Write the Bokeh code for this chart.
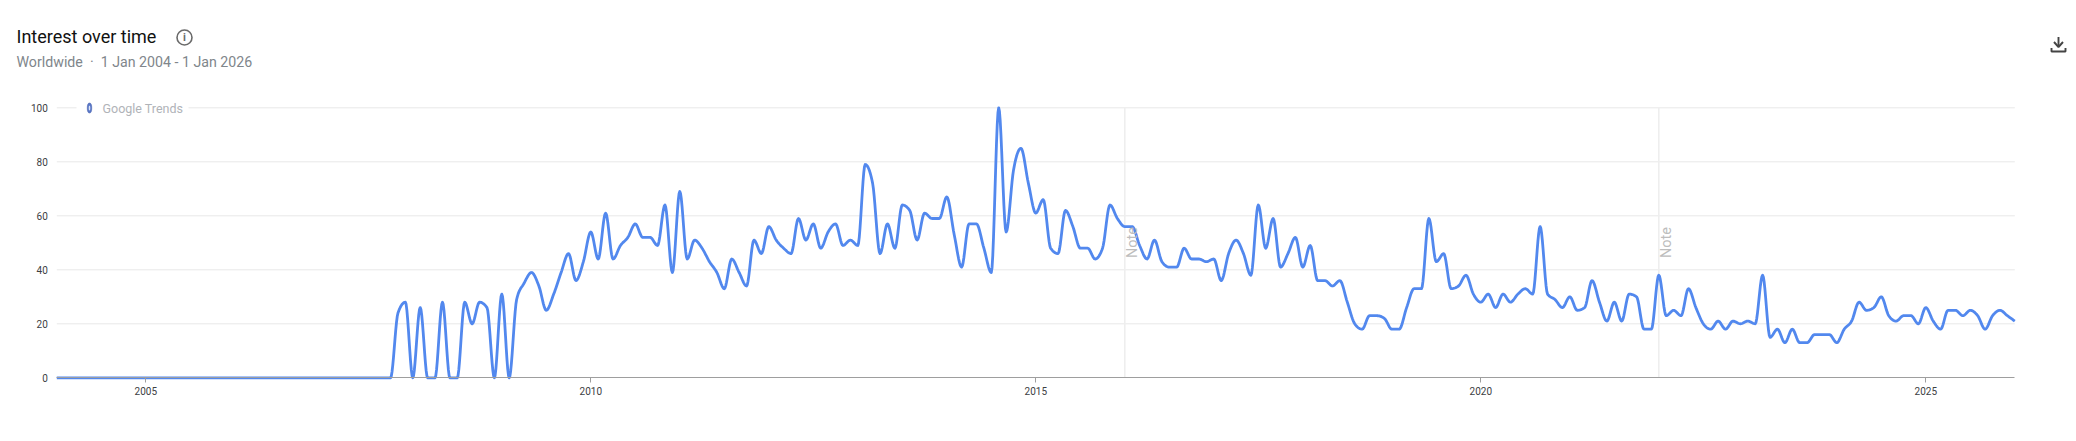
import numpy as np
from bokeh.plotting import figure
from bokeh.models import Range1d, FixedTicker
from bokeh.embed import file_html
from bokeh.resources import INLINE
from bokeh.core.properties import value

# Monthly interest values, Jan 2004 onward
y2004 = [0]*12
y2005 = [0]*12
y2006 = [0]*12
y2007 = [0]*10 + [24, 28]
y2008 = [0, 26, 0, 0, 28, 0, 0, 28, 20, 28, 26, 0]
y2009 = [31, 0, 29, 35, 39, 34, 25, 31, 39, 46, 36, 43]
y2010 = [54, 44, 61, 44, 49, 52, 57, 52, 52, 49, 64, 39]
y2011 = [69, 44, 51, 48, 43, 39, 33, 44, 39, 34, 51, 46]
y2012 = [56, 51, 48, 46, 59, 51, 57, 48, 54, 57, 49, 51]
y2013 = [49, 79, 72, 46, 57, 48, 64, 62, 51, 61, 59, 59]
y2014 = [67, 53, 41, 57, 57, 48, 39, 100, 54, 77, 85, 72]
y2015 = [61, 66, 48, 46, 62, 56, 48, 48, 44, 48, 64, 59]
y2016 = [56, 56, 49, 44, 51, 43, 41, 41, 48, 44, 44, 43]
y2017 = [44, 36, 46, 51, 46, 38, 64, 48, 59, 41, 46, 52]
y2018 = [41, 49, 36, 36, 34, 36, 28, 20, 18, 23, 23, 22]
y2019 = [18, 18, 26, 33, 33, 59, 43, 46, 33, 34, 38, 31]
y2020 = [28, 31, 26, 31, 28, 31, 33, 31, 56, 31, 29, 26]
y2021 = [30, 25, 26, 36, 28, 21, 28, 21, 31, 30, 18, 18]
y2022 = [38, 23, 25, 23, 33, 26, 20, 18, 21, 18, 21, 20]
y2023 = [21, 20, 38, 15, 18, 13, 18, 13, 13, 16, 16, 16]
y2024 = [13, 18, 21, 28, 25, 26, 30, 23, 21, 23, 23, 20]
y2025 = [26, 21, 18, 25, 25, 23, 25, 23, 18, 23, 25, 23]
y2026 = [21]

interest = (y2004 + y2005 + y2006 + y2007 + y2008 + y2009 + y2010 + y2011 + y2012
            + y2013 + y2014 + y2015 + y2016 + y2017 + y2018 + y2019 + y2020 + y2021
            + y2022 + y2023 + y2024 + y2025 + y2026)
months = [2004 + i / 12 for i in range(len(interest))]

year_ticks = [2005, 2010, 2015, 2020, 2025]
value_ticks = [0, 20, 40, 60, 80, 100]
note_years = [2016, 2022]

TITLE = "Interest over time"
SUBTITLE = "Worldwide\u00a0\u00a0\u00b7\u00a0\u00a01 Jan 2004 - 1 Jan 2026"
BRAND = "Google Trends"

W, H = 2070, 432
PX_YEAR, PX_UNIT = 89.0, 2.7
X0_PAGE, Y0_PAGE = 56.3, 377.3   # page pixel of (2004, 0)
MARGIN = 0


def dx(px):  # page pixel -> data x
    return 2004 + (px - X0_PAGE) / PX_YEAR


def dy(px):  # page pixel -> data y
    return (Y0_PAGE - px) / PX_UNIT


def monotone(xs, ys, per=10):
    """Draw-time curve through the values, flat at local extremes."""
    xs, ys = np.asarray(xs, float), np.asarray(ys, float)
    h = np.diff(xs)
    s = np.diff(ys) / h
    m = np.zeros_like(ys)
    for i in range(1, len(ys) - 1):
        if s[i - 1] * s[i] > 0:
            p_ = (s[i - 1] * h[i] + s[i] * h[i - 1]) / (h[i] + h[i - 1])
            m[i] = np.sign(s[i]) * min(abs(s[i - 1]), abs(s[i]), 0.5 * abs(p_)) * 2
    m[0], m[-1] = s[0], s[-1]
    X, Y = [], []
    for i in range(len(h)):
        for t in np.linspace(0, 1, per, endpoint=False):
            a = 2*t**3 - 3*t**2 + 1
            b = t**3 - 2*t**2 + t
            c = -2*t**3 + 3*t**2
            d = t**3 - t**2
            X.append(xs[i] + t * h[i])
            Y.append(a*ys[i] + b*h[i]*m[i] + c*ys[i+1] + d*h[i]*m[i+1])
    X.append(xs[-1])
    Y.append(ys[-1])
    return X, Y


p = figure(width=W, height=H, output_backend="svg", toolbar_location=None,
           x_range=Range1d(dx(MARGIN), dx(MARGIN + W)),
           y_range=Range1d(dy(MARGIN + H), dy(MARGIN)),
           min_border=0, outline_line_color=None)

p.xgrid.visible = False
p.ygrid.visible = False

xa = p.xaxis[0]
xa.ticker = FixedTicker(ticks=year_ticks)
xa.fixed_location = 0
xa.bounds = (2004, 2026)
xa.axis_line_color = "#9e9e9e"
xa.axis_line_width = 1
xa.major_tick_line_color = "#9e9e9e"
xa.major_tick_in = 0
xa.major_tick_out = 5
xa.minor_tick_line_color = None
xa.major_label_text_font = "Roboto"
xa.major_label_text_font_size = "10px"
xa.major_label_text_color = "#3c4043"
xa.major_label_standoff = 4

ya = p.yaxis[0]
ya.ticker = FixedTicker(ticks=value_ticks)
ya.fixed_location = 2004
ya.axis_line_color = None
ya.major_tick_line_color = None
ya.minor_tick_line_color = None
ya.major_tick_out = 0
ya.major_tick_in = 0
ya.major_label_text_font = "Roboto"
ya.major_label_text_font_size = "10px"
ya.major_label_text_color = "#3c4043"
ya.major_label_standoff = 9

# horizontal gridlines, limited to the data span (0 is the axis itself)
grid_vals = value_ticks[1:]
p.segment(x0=[2004]*len(grid_vals), y0=grid_vals, x1=[2026]*len(grid_vals), y1=grid_vals,
          line_color="#e8e8e8", line_width=1)

# note markers
p.segment(x0=note_years, y0=[0]*2, x1=note_years, y1=[100]*2,
          line_color="#eeeeee", line_width=1.6)

# brand patch over the top gridline
p.quad(left=[dx(76)], right=[dx(188)], bottom=[dy(114)], top=[dy(100)],
       fill_color="white", line_color=None)
p.ellipse(x=[dx(89)], y=[dy(107.5)], width=[4.5], height=[10],
          width_units="screen", height_units="screen",
          fill_color="#5a78c8", line_color="#3a55a5", line_width=0.5)
p.ellipse(x=[dx(89)], y=[dy(107.5)], width=[1.6], height=[5],
          width_units="screen", height_units="screen",
          fill_color="#dbe4f8", line_color=None)
p.text(x=[dx(102)], y=[dy(107.5)], text=[BRAND], text_font=value("Roboto"),
       text_font_size="12.5px", text_color="#b0b3b8",
       text_align="left", text_baseline="middle")

# series
cx, cy = monotone(months, interest)
p.line(cx, cy, line_color="#5288ee", line_width=2.8, line_join="round")

# Note labels
p.text(x=[dx(1132), dx(1666)], y=[dy(242)]*2, text=["Note", "Note"], angle=np.pi/2,
       text_font=value("Roboto"), text_font_size="14.5px", text_color="#bdbdbd",
       text_align="center", text_baseline="middle")

# header
p.text(x=[dx(16)], y=[dy(36)], text=[TITLE], text_font=value("Roboto"),
       text_font_size="18px", text_color="#111111",
       text_align="left", text_baseline="middle")
p.text(x=[dx(16)], y=[dy(61)], text=[SUBTITLE], text_font=value("Roboto"),
       text_font_size="14.2px", text_color="#80868b",
       text_align="left", text_baseline="middle")

# info icon
p.scatter(x=[dx(184)], y=[dy(37)], size=15, marker="circle", fill_color=None,
          line_color="#6b6b6b", line_width=1.6)
p.text(x=[dx(184)], y=[dy(37)], text=["i"], text_font=value("Roboto"),
       text_font_style="bold", text_font_size="11px", text_color="#6b6b6b",
       text_align="center", text_baseline="middle")

# download icon
p.multi_line(xs=[[dx(2058), dx(2058)],
                 [dx(2053.5), dx(2058), dx(2062.5)],
                 [dx(2051), dx(2051), dx(2065), dx(2065)]],
             ys=[[dy(36.5), dy(46)],
                 [dy(41.5), dy(46.5), dy(41.5)],
                 [dy(47.5), dy(51), dy(51), dy(47.5)]],
             line_color="#444444", line_width=1.9)

open("out.html", "w").write(file_html(p, INLINE))
